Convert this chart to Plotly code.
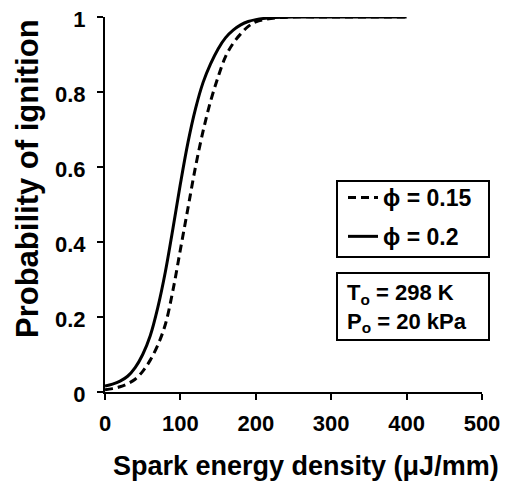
import plotly.graph_objects as go

# Data
energy = [0, 10, 20, 30, 40, 50, 60, 70, 80, 90, 100, 110, 120, 130, 140, 150,
          160, 170, 180, 190, 200, 220, 250, 300, 350, 400]
p_phi015 = [0.006, 0.009, 0.014, 0.022, 0.034, 0.055, 0.085, 0.125, 0.18, 0.27,
            0.38, 0.49, 0.60, 0.695, 0.775, 0.84, 0.895, 0.93, 0.955, 0.975,
            0.987, 0.996, 1.0, 1.0, 1.0, 1.0]
p_phi02 = [0.016, 0.021, 0.029, 0.042, 0.065, 0.10, 0.15, 0.225, 0.32, 0.435,
           0.555, 0.665, 0.755, 0.825, 0.875, 0.915, 0.945, 0.965, 0.979, 0.988,
           0.993, 0.998, 1.0, 1.0, 1.0, 1.0]
series_names = ["\u03d5 = 0.15", "\u03d5 = 0.2"]
x_ticks = [0, 100, 200, 300, 400, 500]
y_ticks = [0, 0.2, 0.4, 0.6, 0.8, 1]
y_tick_text = ["0", "0.2", "0.4", "0.6", "0.8", "1"]
x_title = "Spark energy density (\u03bcJ/mm)"
y_title = "Probability of ignition"

FONT = "Liberation Sans, Arial, sans-serif"

fig = go.Figure()
fig.add_trace(go.Scatter(x=energy, y=p_phi015, mode="lines", name=series_names[0],
                         line=dict(color="black", width=3, dash="8px,5px", shape="spline"),
                         legendgroup="a"))
fig.add_trace(go.Scatter(x=energy, y=p_phi02, mode="lines", name=series_names[1],
                         line=dict(color="black", width=3, shape="spline"),
                         legendgroup="b"))

# The page body has an 8px margin, so the figure starts at page pixel (8, 8).
OFF = 8
W, H = 500, 478
# target plot area in page pixels: x 105..482, y 17..392
PX0, PX1, PY0, PY1 = 105, 482, 17, 392
L, R = PX0 - OFF, W - (PX1 - OFF)
T, B = PY0 - OFF, H - (PY1 - OFF)
def px(xp): return (xp - PX0) / (PX1 - PX0)
def py(yp): return (PY1 - yp) / (PY1 - PY0)

tickfont = dict(size=22, family=FONT, weight="bold")

fig.update_layout(
    width=W, height=H,
    margin=dict(l=L, r=R, t=T, b=B, pad=0),
    paper_bgcolor="white", plot_bgcolor="white",
    font=dict(family=FONT, color="black", size=22, weight="bold"),
    showlegend=True,
    legend=dict(x=px(343), y=py(176), xanchor="left", yanchor="top",
                bgcolor="rgba(0,0,0,0)", borderwidth=0, tracegroupgap=6,
                font=dict(size=23, family=FONT, weight="bold"), itemwidth=30),
    xaxis=dict(range=[0, 500], tickvals=x_ticks, showgrid=False, zeroline=False,
               showline=True, linecolor="black", linewidth=2, automargin=False,
               ticks="outside", ticklen=6, tickwidth=2, tickcolor="black",
               ticklabelstandoff=5, ticklabeloverflow="allow", tickfont=tickfont),
    yaxis=dict(range=[0, 1], tickvals=y_ticks, ticktext=y_tick_text, showgrid=False,
               zeroline=False, showline=True, linecolor="black", linewidth=2,
               automargin=False,
               ticks="outside", ticklen=6, tickwidth=2, tickcolor="black",
               ticklabelstandoff=7, ticklabelshift=2, ticklabeloverflow="allow",
               tickfont=tickfont),
    shapes=[
        dict(type="rect", xref="paper", yref="paper", x0=px(337), x1=px(489),
             y0=py(257), y1=py(181), line=dict(color="black", width=2)),
        dict(type="rect", xref="paper", yref="paper", x0=px(337), x1=px(489),
             y0=py(340), y1=py(273), line=dict(color="black", width=2)),
    ],
    annotations=[
        dict(xref="paper", yref="paper", x=px(345), y=py(307.5), xanchor="left",
             yanchor="middle", align="left", showarrow=False,
             text="T<sub>o</sub> = 298 K<br>P<sub>o</sub> = 20 kPa",
             font=dict(size=22, family=FONT, weight="bold")),
        dict(xref="paper", yref="paper", x=px(306), y=py(466), xanchor="center",
             yanchor="middle", showarrow=False, text=x_title,
             font=dict(size=27, family=FONT, weight="bold")),
        dict(xref="paper", yref="paper", x=px(27), y=py(179), xanchor="center",
             yanchor="middle", showarrow=False, text=y_title, textangle=-90,
             font=dict(size=31, family=FONT, weight="bold")),
    ],
)

fig.write_html("out.html")
